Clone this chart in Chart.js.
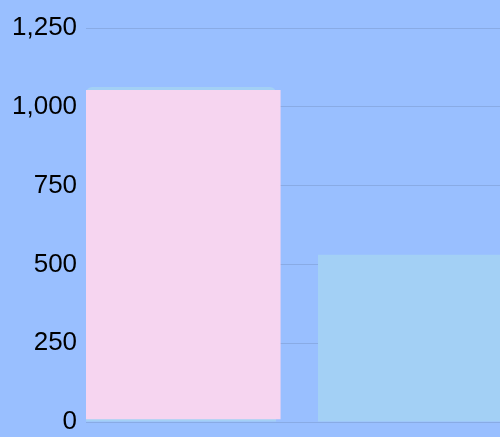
<!DOCTYPE html>
<html>
<head>
<meta charset="utf-8">
<script src="https://cdn.jsdelivr.net/npm/chart.js@4/dist/chart.umd.min.js"></script>
<style>
  html, body { margin: 0; padding: 0; background: #99bfff; overflow: hidden; }
  #wrap { width: 500px; height: 437px; }
</style>
</head>
<body>
<div id="wrap"><canvas id="c" width="500" height="437"></canvas></div>
<script>
const categories = ['A', 'B'];
const seriesValues = [1063, 531];
const highlightRange = [9, 1053];
const yTicks = [0, 250, 500, 750, 1000, 1250];

const blueData = categories.map((c, i) => ({ x: i, y: seriesValues[i] }));
const pinkData = [{ x: 0, y: highlightRange }];

const bgPlugin = {
  id: 'bg',
  beforeDraw(chart) {
    const ctx = chart.ctx;
    ctx.save();
    ctx.fillStyle = '#99bfff';
    ctx.fillRect(0, 0, chart.width, chart.height);
    ctx.restore();
  }
};

new Chart(document.getElementById('c'), {
  type: 'bar',
  data: {
    datasets: [
      {
        label: 'highlight',
        data: pinkData,
        backgroundColor: '#f6d5f0',
        borderWidth: 0,
        grouped: false,
        categoryPercentage: 1,
        barPercentage: 0.858,
        order: 0
      },
      {
        label: 'values',
        data: blueData,
        backgroundColor: '#a3d0f5',
        borderWidth: 0,
        borderRadius: [6, 0],
        borderSkipped: 'start',
        grouped: false,
        categoryPercentage: 1,
        barPercentage: 0.819,
        order: 1
      }
    ]
  },
  options: {
    responsive: false,
    animation: false,
    events: [],
    layout: { padding: { left: 9, top: 28, right: 0, bottom: 0 } },
    plugins: { legend: { display: false }, tooltip: { enabled: false } },
    scales: {
      x: {
        type: 'linear',
        display: false,
        offset: false,
        bounds: 'data',
        min: -0.4095,
        max: 1.375,
        afterBuildTicks(scale) { scale.ticks = categories.map((c, i) => ({ value: i })); }
      },
      y: {
        min: 0,
        max: 1250,
        afterBuildTicks(scale) { scale.ticks = yTicks.map(v => ({ value: v })); },
        border: { display: false },
        grid: { color: 'rgba(0,0,0,0.1)', lineWidth: 1, drawTicks: true, tickLength: 6, tickColor: 'rgba(0,0,0,0)' },
        ticks: {
          padding: 3,
          color: '#000',
          font: { family: 'Liberation Sans', size: 26, lineHeight: 0.92 }
        }
      }
    }
  },
  plugins: [bgPlugin]
});
</script>
</body>
</html>
